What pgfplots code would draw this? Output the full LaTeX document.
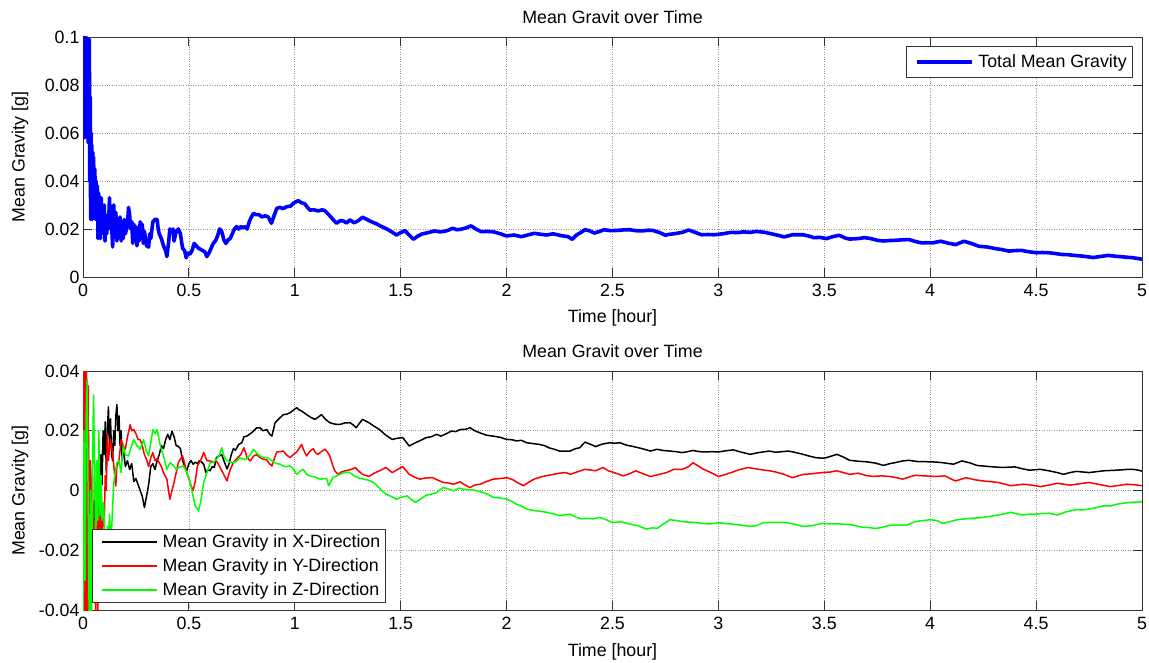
\documentclass[border=0pt]{standalone}
\usepackage{fontspec}
\setmainfont{Liberation Sans}
\usepackage{pgfplots}
\pgfplotsset{compat=1.18}
\newcommand\f{\fontsize{17.8bp}{21bp}\selectfont}
\pgfplotsset{
  mystyle/.style={
    scale only axis, width=1059bp, xmin=0, xmax=5,
    xtick={0,0.5,1,1.5,2,2.5,3,3.5,4,4.5,5},
    xticklabels={0,0.5,1,1.5,2,2.5,3,3.5,4,4.5,5},
    scaled y ticks=false, scaled x ticks=false,
    tick align=inside, major tick length=9bp,
    tick style={black!80, line width=0.8bp},
    axis line style={black!80, line width=0.8bp},
    grid=major, grid style={dotted, black!40, line width=0.7bp},
    tick label style={font=\f},
    xticklabel style={yshift=-4bp},
    every axis x label/.style={at={(axis description cs:0.5,-0.172)}, anchor=center, font=\f},
    every axis y label/.style={at={(axis description cs:-0.0595,0.5)}, rotate=90, anchor=center, font=\f},
    every axis title/.style={at={(axis description cs:0.5,1.083)}, anchor=center, font=\f},
    legend style={font=\f, draw=black!80, fill=white, inner xsep=3bp, inner ysep=3bp, row sep=5.5bp},
    legend cell align=left,
    legend image code/.code={\path (0bp,0bp) (64bp,0bp); \draw[#1] (6bp,0bp) -- (61bp,0bp);},
    every axis plot/.append style={line join=round},
  }
}
\begin{document}
\begin{tikzpicture}
\path[use as bounding box] (0,0) rectangle (1149bp,663bp);
\begin{axis}[mystyle, at={(83bp,386bp)}, anchor=south west, height=240bp,
  ymin=0, ymax=0.1, ytick={0,0.02,0.04,0.06,0.08,0.1},
  yticklabels={0,0.02,0.04,0.06,0.08,0.1},
  title={Mean Gravit over Time}, xlabel={Time [hour]}, ylabel={Mean Gravity [g]},
  legend style={at={(1,1)}, anchor=north east, xshift=-10bp, yshift=-9bp, inner ysep=6.5bp}]
\addplot[draw=blue, line width=3.6bp] coordinates {
(0,0.060) (0.002,0.1) (0.004,0.062) (0.006,0.1) (0.008,0.058) (0.010,0.1) (0.012,0.065) (0.014,0.1) (0.016,0.06) (0.018,0.099) (0.020,0.062) (0.022,0.099) (0.024,0.056) (0.026,0.099) (0.028,0.06) (0.030,0.099) (0.032,0.04) (0.034,0.075) (0.036,0.024) (0.038,0.06) (0.040,0.03) (0.042,0.055) (0.044,0.024) (0.046,0.052) (0.048,0.035) (0.050,0.05) (0.053,0.03) (0.056,0.045) (0.059,0.024) (0.062,0.04) (0.065,0.025) (0.068,0.038) (0.071,0.016) (0.074,0.035) (0.077,0.02) (0.080,0.03) (0.083,0.016) (0.086,0.033) (0.089,0.018) (0.092,0.028) (0.096,0.02) (0.100,0.03) (0.104,0.015) (0.108,0.025) (0.112,0.018) (0.116,0.026) (0.120,0.02) (0.125,0.033) (0.13,0.02) (0.135,0.022) (0.14,0.0125) (0.145,0.03) (0.15,0.018) (0.155,0.027) (0.16,0.015) (0.165,0.024) (0.17,0.017) (0.175,0.025) (0.18,0.015) (0.185,0.022) (0.19,0.016) (0.195,0.024) (0.2,0.018) (0.21,0.022) (0.215,0.029) (0.22,0.026) (0.225,0.02) (0.23,0.023) (0.235,0.014) (0.24,0.022) (0.245,0.016) (0.25,0.021) (0.255,0.013) (0.26,0.02) (0.265,0.015) (0.27,0.023) (0.275,0.017) (0.28,0.022) (0.285,0.014) (0.29,0.019) (0.3,0.013) (0.31,0.0125) (0.315,0.018) (0.32,0.016) (0.33,0.023) (0.34,0.024) (0.35,0.024) (0.355,0.02) (0.36,0.018) (0.37,0.016) (0.38,0.013) (0.39,0.011) (0.396,0.0085) (0.405,0.015) (0.41,0.02) (0.42,0.019) (0.425,0.02) (0.43,0.015) (0.44,0.019) (0.45,0.02) (0.46,0.018) (0.47,0.012) (0.48,0.011) (0.487,0.008) (0.495,0.01) (0.505,0.0095) (0.515,0.011) (0.525,0.014) (0.535,0.013) (0.545,0.012) (0.555,0.0115) (0.565,0.011) (0.575,0.0105) (0.585,0.0085) (0.595,0.01) (0.605,0.012) (0.615,0.014) (0.625,0.015) (0.635,0.017) (0.645,0.02) (0.655,0.019) (0.665,0.0155) (0.675,0.014) (0.685,0.0155) (0.695,0.016) (0.705,0.018) (0.715,0.02) (0.725,0.021) (0.735,0.02) (0.745,0.021) (0.755,0.0205) (0.765,0.021) (0.775,0.02) (0.785,0.023) (0.795,0.025) (0.805,0.0265) (0.815,0.026) (0.83,0.026) (0.845,0.025) (0.86,0.0255) (0.875,0.025) (0.89,0.0224) (0.9,0.025) (0.915,0.0286) (0.93,0.029) (0.945,0.0285) (0.962,0.0293) (0.98,0.0295) (0.993,0.0307) (1.016,0.0318) (1.03,0.031) (1.047,0.0305) (1.06,0.029) (1.071,0.0279) (1.09,0.028) (1.11,0.0275) (1.13,0.028) (1.142,0.0276) (1.16,0.026) (1.18,0.024) (1.197,0.0224) (1.215,0.0235) (1.23,0.0233) (1.245,0.0225) (1.26,0.0238) (1.28,0.0226) (1.3,0.0235) (1.32,0.0249) (1.34,0.024) (1.36,0.0231) (1.385,0.0222) (1.41,0.021) (1.435,0.02) (1.456,0.0189) (1.48,0.0175) (1.5,0.0185) (1.52,0.0193) (1.54,0.0175) (1.56,0.0157) (1.58,0.017) (1.6,0.0179) (1.63,0.0185) (1.66,0.0192) (1.685,0.0188) (1.705,0.019) (1.725,0.0195) (1.745,0.0203) (1.765,0.0197) (1.785,0.0199) (1.81,0.0205) (1.832,0.0213) (1.855,0.02) (1.88,0.0189) (1.91,0.019) (1.94,0.0188) (1.97,0.018) (2.0,0.0171) (2.035,0.0175) (2.07,0.0168) (2.1,0.0175) (2.13,0.0182) (2.16,0.0178) (2.19,0.0175) (2.22,0.018) (2.26,0.0172) (2.29,0.0168) (2.31,0.0157) (2.33,0.0175) (2.35,0.0185) (2.37,0.0197) (2.39,0.0193) (2.415,0.0183) (2.44,0.019) (2.46,0.0197) (2.49,0.0193) (2.52,0.0194) (2.55,0.0196) (2.58,0.0197) (2.61,0.0193) (2.64,0.0192) (2.67,0.0195) (2.69,0.0194) (2.72,0.0186) (2.75,0.0174) (2.77,0.0178) (2.79,0.018) (2.83,0.0186) (2.86,0.0196) (2.89,0.0186) (2.92,0.0176) (2.95,0.0177) (2.98,0.0176) (3.02,0.018) (3.06,0.0186) (3.09,0.0185) (3.12,0.0188) (3.15,0.0186) (3.18,0.019) (3.22,0.0186) (3.26,0.0178) (3.29,0.0172) (3.31,0.0167) (3.35,0.0176) (3.38,0.0176) (3.4,0.0176) (3.43,0.017) (3.45,0.0164) (3.48,0.0165) (3.51,0.016) (3.54,0.0168) (3.57,0.0174) (3.6,0.0162) (3.62,0.0158) (3.66,0.016) (3.69,0.0164) (3.72,0.016) (3.75,0.0153) (3.78,0.015) (3.81,0.0152) (3.84,0.0153) (3.87,0.0155) (3.9,0.0156) (3.93,0.0148) (3.96,0.0142) (3.99,0.0143) (4.01,0.0142) (4.05,0.0149) (4.08,0.0142) (4.12,0.0135) (4.16,0.0149) (4.2,0.0138) (4.23,0.0128) (4.27,0.0125) (4.31,0.0118) (4.34,0.0114) (4.37,0.0108) (4.4,0.011) (4.43,0.0111) (4.46,0.0106) (4.5,0.0101) (4.53,0.0102) (4.56,0.0101) (4.59,0.0098) (4.62,0.0094) (4.65,0.0093) (4.68,0.009) (4.72,0.0087) (4.77,0.0081) (4.8,0.0085) (4.84,0.009) (4.88,0.0086) (4.92,0.0083) (4.96,0.008) (5.0,0.0074)
};
\addlegendentry{Total Mean Gravity}
\end{axis}
\begin{axis}[mystyle, at={(83bp,53bp)}, anchor=south west, height=239bp,
  ymin=-0.04, ymax=0.04, ytick={-0.04,-0.02,0,0.02,0.04},
  yticklabels={-0.04,-0.02,0,0.02,0.04},
  title={Mean Gravit over Time}, xlabel={Time [hour]}, ylabel={Mean Gravity [g]},
  every axis x label/.style={at={(axis description cs:0.5,-0.176)}, anchor=center, font=\f},
  every axis title/.style={at={(axis description cs:0.5,1.082)}, anchor=center, font=\f},
  legend image code/.code={\path (0bp,0bp) (64bp,0bp); \draw[#1, line width=2bp] (6bp,0bp) -- (61bp,0bp);},
  legend style={at={(0,0)}, anchor=south west, xshift=9bp, yshift=8bp}]
\addplot[draw=black, line width=1.5bp] coordinates {
(0,0.05) (0.004,-0.05) (0.008,0.05) (0.012,-0.05) (0.016,0.045) (0.02,-0.03) (0.025,0.02) (0.03,-0.04) (0.035,0.01) (0.04,-0.035) (0.045,-0.01) (0.05,-0.025) (0.055,0.0) (0.06,-0.012) (0.065,0.008) (0.07,0.0) (0.075,0.01) (0.08,0.003) (0.085,0.012) (0.09,0.002) (0.095,0.02) (0.1,0.012) (0.105,0.023) (0.11,0.006) (0.115,0.02) (0.12,0.028) (0.125,0.015) (0.13,0.024) (0.135,0.012) (0.14,0.01) (0.145,0.02) (0.15,0.015) (0.155,0.025) (0.16,0.0288) (0.165,0.02) (0.17,0.025) (0.175,0.015) (0.18,0.02) (0.185,0.01) (0.19,0.015) (0.2,0.008) (0.21,0.01) (0.22,0.007) (0.23,0.009) (0.24,0.003) (0.25,0.004) (0.26,0.002) (0.27,0.0) (0.28,-0.002) (0.29,-0.0057) (0.3,-0.002) (0.31,0.002) (0.32,0.008) (0.33,0.009) (0.34,0.007) (0.35,0.01) (0.36,0.012) (0.37,0.015) (0.38,0.014) (0.39,0.017) (0.4,0.0188) (0.41,0.017) (0.42,0.0199) (0.43,0.018) (0.44,0.015) (0.45,0.0148) (0.46,0.014) (0.47,0.01) (0.48,0.008) (0.49,0.0066) (0.5,0.009) (0.51,0.01) (0.52,0.0088) (0.53,0.0095) (0.54,0.009) (0.55,0.01) (0.56,0.0095) (0.57,0.0088) (0.58,0.006) (0.59,0.007) (0.6,0.0066) (0.61,0.008) (0.62,0.0077) (0.63,0.011) (0.64,0.0115) (0.655,0.012) (0.665,0.01) (0.68,0.0072) (0.69,0.009) (0.7,0.012) (0.71,0.014) (0.72,0.0135) (0.735,0.0154) (0.75,0.016) (0.76,0.018) (0.773,0.0182) (0.79,0.019) (0.805,0.0199) (0.82,0.021) (0.836,0.021) (0.85,0.02) (0.868,0.0204) (0.88,0.019) (0.892,0.0182) (0.907,0.0227) (0.925,0.024) (0.946,0.0254) (0.96,0.0255) (0.977,0.026) (0.995,0.027) (1.009,0.0277) (1.02,0.027) (1.032,0.0266) (1.056,0.0254) (1.075,0.0245) (1.095,0.0238) (1.11,0.0245) (1.126,0.0254) (1.145,0.0238) (1.165,0.0227) (1.19,0.0222) (1.213,0.0221) (1.235,0.0226) (1.26,0.0227) (1.275,0.022) (1.29,0.021) (1.305,0.0225) (1.32,0.0238) (1.35,0.0227) (1.375,0.0215) (1.4,0.0204) (1.43,0.0185) (1.46,0.0171) (1.485,0.0175) (1.51,0.0177) (1.54,0.0149) (1.57,0.0160) (1.595,0.0168) (1.62,0.0177) (1.645,0.018) (1.67,0.0188) (1.69,0.0182) (1.715,0.019) (1.74,0.0199) (1.76,0.0197) (1.78,0.0204) (1.805,0.0205) (1.827,0.021) (1.85,0.02) (1.874,0.0193) (1.905,0.0185) (1.937,0.0182) (1.97,0.0178) (2.0,0.0171) (2.025,0.017) (2.047,0.0166) (2.07,0.0168) (2.094,0.016) (2.125,0.0157) (2.157,0.0154) (2.18,0.015) (2.2,0.0143) (2.225,0.0138) (2.25,0.0132) (2.275,0.0132) (2.3,0.0132) (2.325,0.014) (2.345,0.0143) (2.37,0.0162) (2.395,0.0155) (2.42,0.0147) (2.45,0.0155) (2.487,0.016) (2.51,0.0158) (2.535,0.016) (2.565,0.0152) (2.6,0.0147) (2.64,0.014) (2.68,0.0132) (2.71,0.0138) (2.74,0.0134) (2.77,0.0132) (2.8,0.013) (2.83,0.0127) (2.855,0.013) (2.88,0.0134) (2.91,0.013) (2.94,0.0129) (2.97,0.013) (3.0,0.0129) (3.035,0.0133) (3.07,0.0136) (3.11,0.0128) (3.15,0.0121) (3.19,0.0127) (3.24,0.0132) (3.27,0.0128) (3.3,0.013) (3.33,0.0132) (3.36,0.0128) (3.4,0.0121) (3.43,0.0115) (3.46,0.011) (3.49,0.0108) (3.51,0.011) (3.56,0.0121) (3.59,0.0112) (3.62,0.0101) (3.66,0.0098) (3.7,0.0096) (3.74,0.0092) (3.78,0.0084) (3.81,0.009) (3.84,0.0094) (3.87,0.0099) (3.9,0.0101) (3.94,0.0097) (4.0,0.0096) (4.03,0.0095) (4.06,0.0093) (4.11,0.0088) (4.15,0.0099) (4.19,0.0092) (4.22,0.0084) (4.28,0.008) (4.34,0.0077) (4.4,0.0079) (4.44,0.0072) (4.47,0.0068) (4.52,0.0071) (4.56,0.0066) (4.6,0.006) (4.63,0.0054) (4.66,0.006) (4.69,0.0064) (4.75,0.006) (4.82,0.0066) (4.88,0.0068) (4.94,0.0071) (4.97,0.007) (5.0,0.0065)
};
\addlegendentry{Mean Gravity in X-Direction}
\addplot[draw=red, line width=1.5bp] coordinates {
(0,0.05) (0.004,-0.05) (0.008,0.05) (0.012,-0.05) (0.016,0.05) (0.02,-0.045) (0.025,0.035) (0.03,-0.05) (0.035,0.01) (0.04,-0.02) (0.045,0.005) (0.05,-0.035) (0.055,-0.01) (0.06,-0.045) (0.065,-0.005) (0.07,-0.04) (0.075,0.0) (0.08,-0.025) (0.085,0.005) (0.09,-0.02) (0.095,-0.005) (0.1,-0.012) (0.105,0.005) (0.11,0.0) (0.115,0.019) (0.12,0.01) (0.13,0.017) (0.14,0.012) (0.15,0.005) (0.155,0.0015) (0.16,0.008) (0.17,0.01) (0.18,0.017) (0.19,0.015) (0.2,0.0138) (0.21,0.018) (0.223,0.022) (0.23,0.02) (0.24,0.0204) (0.25,0.019) (0.26,0.017) (0.27,0.017) (0.28,0.015) (0.29,0.012) (0.3,0.0104) (0.31,0.008) (0.32,0.011) (0.33,0.0127) (0.34,0.01) (0.35,0.0107) (0.36,0.0093) (0.37,0.008) (0.38,0.006) (0.396,0.0038) (0.41,-0.0029) (0.42,0.0) (0.43,0.0027) (0.44,0.006) (0.45,0.0093) (0.46,0.0105) (0.47,0.0116) (0.48,0.009) (0.49,0.006) (0.5,0.004) (0.51,0.0016) (0.52,0.0) (0.53,0.003) (0.54,0.0082) (0.555,0.01) (0.57,0.0127) (0.585,0.01) (0.6,0.0099) (0.615,0.0095) (0.63,0.0099) (0.645,0.008) (0.66,0.006) (0.68,0.0032) (0.695,0.007) (0.71,0.0093) (0.73,0.011) (0.745,0.012) (0.76,0.0143) (0.775,0.011) (0.79,0.0099) (0.805,0.0115) (0.82,0.012) (0.836,0.011) (0.85,0.0105) (0.868,0.0102) (0.88,0.009) (0.892,0.0082) (0.905,0.011) (0.915,0.0129) (0.93,0.013) (0.946,0.0132) (0.96,0.012) (0.977,0.011) (0.99,0.0118) (1.009,0.0129) (1.032,0.0154) (1.045,0.013) (1.056,0.0116) (1.07,0.013) (1.087,0.014) (1.1,0.0125) (1.11,0.0121) (1.125,0.013) (1.142,0.0138) (1.155,0.0128) (1.165,0.0116) (1.18,0.0082) (1.19,0.0065) (1.204,0.0054) (1.22,0.0062) (1.24,0.0066) (1.265,0.007) (1.286,0.0077) (1.3,0.0066) (1.32,0.0054) (1.35,0.0047) (1.375,0.0058) (1.4,0.0066) (1.43,0.0077) (1.46,0.006) (1.485,0.007) (1.51,0.008) (1.54,0.0054) (1.565,0.0045) (1.59,0.0038) (1.62,0.0042) (1.65,0.0043) (1.675,0.0035) (1.7,0.0027) (1.725,0.0025) (1.75,0.0021) (1.78,0.0029) (1.8,0.002) (1.827,0.001) (1.85,0.0018) (1.874,0.0021) (1.905,0.003) (1.937,0.0038) (1.97,0.004) (2.0,0.0043) (2.03,0.0036) (2.055,0.0025) (2.08,0.0016) (2.105,0.0028) (2.13,0.0038) (2.17,0.0047) (2.22,0.0054) (2.25,0.0058) (2.28,0.006) (2.3,0.0054) (2.345,0.0065) (2.37,0.0071) (2.4,0.0068) (2.42,0.0066) (2.455,0.0077) (2.48,0.0066) (2.5,0.0062) (2.55,0.0049) (2.58,0.0056) (2.61,0.0066) (2.645,0.0056) (2.68,0.0047) (2.72,0.0054) (2.755,0.006) (2.79,0.0071) (2.83,0.0071) (2.86,0.008) (2.88,0.0093) (2.905,0.0082) (2.93,0.0071) (2.965,0.006) (3.0,0.0047) (3.03,0.0053) (3.06,0.006) (3.1,0.007) (3.14,0.0077) (3.19,0.0071) (3.24,0.0066) (3.27,0.0062) (3.31,0.0054) (3.35,0.0043) (3.4,0.0054) (3.44,0.0056) (3.49,0.006) (3.53,0.0062) (3.56,0.0066) (3.59,0.006) (3.62,0.0054) (3.66,0.0058) (3.7,0.005) (3.73,0.0047) (3.77,0.0049) (3.81,0.0047) (3.84,0.0043) (3.87,0.0038) (3.9,0.0045) (3.93,0.0051) (3.97,0.0049) (4.03,0.0047) (4.07,0.0049) (4.1,0.0038) (4.12,0.0032) (4.17,0.0043) (4.21,0.0036) (4.25,0.0032) (4.28,0.003) (4.32,0.0027) (4.35,0.0022) (4.38,0.0016) (4.44,0.0021) (4.48,0.0018) (4.52,0.0013) (4.56,0.0018) (4.6,0.0024) (4.66,0.0018) (4.7,0.0022) (4.75,0.0027) (4.8,0.002) (4.85,0.0013) (4.89,0.0017) (4.93,0.0021) (4.97,0.0019) (5.0,0.0016)
};
\addlegendentry{Mean Gravity in Y-Direction}
\addplot[draw=green, line width=1.5bp] coordinates {
(0,-0.05) (0.005,0.02) (0.01,-0.03) (0.015,0.025) (0.02,0.037) (0.025,-0.01) (0.03,-0.05) (0.035,0.0) (0.04,-0.045) (0.045,0.01) (0.05,0.032) (0.055,0.005) (0.06,-0.02) (0.065,0.01) (0.07,-0.01) (0.075,0.02) (0.08,-0.0084) (0.085,0.005) (0.09,-0.01) (0.097,-0.004) (0.105,-0.02) (0.11,-0.024) (0.115,-0.012) (0.12,-0.018) (0.125,-0.008) (0.13,-0.015) (0.135,-0.0135) (0.14,-0.005) (0.145,0.002) (0.15,0.005) (0.16,0.0093) (0.17,0.01) (0.18,0.006) (0.19,0.015) (0.2,0.012) (0.215,0.0116) (0.225,0.014) (0.24,0.017) (0.255,0.015) (0.27,0.0138) (0.286,0.017) (0.3,0.013) (0.31,0.0116) (0.32,0.016) (0.33,0.0204) (0.34,0.019) (0.35,0.0204) (0.365,0.015) (0.38,0.0116) (0.396,0.0071) (0.41,0.0093) (0.425,0.0085) (0.44,0.0071) (0.46,0.008) (0.475,0.0082) (0.49,0.006) (0.506,0.0027) (0.52,-0.002) (0.53,-0.0051) (0.545,-0.0068) (0.555,-0.004) (0.57,0.0027) (0.585,0.006) (0.6,0.0093) (0.615,0.0095) (0.63,0.0104) (0.645,0.012) (0.655,0.0143) (0.668,0.011) (0.68,0.0099) (0.695,0.0095) (0.71,0.0093) (0.725,0.0098) (0.74,0.011) (0.755,0.0105) (0.77,0.0104) (0.79,0.012) (0.805,0.0138) (0.82,0.0125) (0.836,0.0116) (0.85,0.011) (0.87,0.011) (0.883,0.0104) (0.9,0.0095) (0.915,0.009) (0.93,0.0088) (0.946,0.0082) (0.96,0.008) (0.977,0.0082) (0.99,0.0075) (1.009,0.0054) (1.025,0.0065) (1.04,0.0071) (1.055,0.0055) (1.07,0.0049) (1.095,0.0045) (1.12,0.0038) (1.15,0.004) (1.16,0.0016) (1.17,0.003) (1.18,0.0043) (1.213,0.0054) (1.24,0.0062) (1.26,0.006) (1.28,0.0049) (1.31,0.004) (1.34,0.0036) (1.365,0.003) (1.39,0.0016) (1.41,0.0) (1.43,-0.0012) (1.455,-0.002) (1.48,-0.0029) (1.505,-0.0022) (1.53,-0.0018) (1.55,-0.003) (1.57,-0.004) (1.595,-0.0028) (1.62,-0.0016) (1.645,-0.0012) (1.67,-0.0007) (1.7,0.001) (1.725,0.0005) (1.75,-0.0001) (1.775,0.0008) (1.8,0.0004) (1.84,0.0002) (1.865,-0.0002) (1.89,-0.0007) (1.91,-0.0012) (1.937,-0.0023) (1.97,-0.0025) (2.0,-0.0029) (2.025,-0.0036) (2.047,-0.0046) (2.07,-0.0052) (2.094,-0.0062) (2.12,-0.0066) (2.14,-0.0068) (2.165,-0.007) (2.19,-0.0073) (2.22,-0.0078) (2.25,-0.0084) (2.27,-0.0082) (2.3,-0.0079) (2.33,-0.009) (2.355,-0.0095) (2.38,-0.0093) (2.41,-0.0095) (2.44,-0.009) (2.47,-0.0098) (2.5,-0.0107) (2.54,-0.0105) (2.58,-0.0112) (2.62,-0.0118) (2.66,-0.0129) (2.69,-0.0125) (2.71,-0.0127) (2.74,-0.0112) (2.77,-0.0098) (2.8,-0.01) (2.83,-0.0104) (2.86,-0.0106) (2.89,-0.0107) (2.92,-0.011) (2.96,-0.0112) (3.0,-0.0108) (3.03,-0.011) (3.07,-0.0113) (3.11,-0.0116) (3.15,-0.012) (3.18,-0.0118) (3.21,-0.0108) (3.24,-0.0107) (3.28,-0.0107) (3.32,-0.0107) (3.36,-0.0113) (3.4,-0.012) (3.44,-0.0118) (3.49,-0.011) (3.53,-0.0112) (3.57,-0.0112) (3.62,-0.0114) (3.65,-0.0118) (3.68,-0.0123) (3.71,-0.0124) (3.74,-0.0127) (3.77,-0.0124) (3.81,-0.0116) (3.85,-0.0116) (3.89,-0.0116) (3.93,-0.0104) (3.96,-0.0101) (4.0,-0.0098) (4.03,-0.01) (4.06,-0.0110) (4.09,-0.0105) (4.12,-0.0099) (4.15,-0.0096) (4.18,-0.0094) (4.22,-0.0092) (4.25,-0.009) (4.28,-0.0087) (4.32,-0.0082) (4.35,-0.0078) (4.38,-0.0073) (4.41,-0.0078) (4.44,-0.0082) (4.47,-0.0079) (4.5,-0.0079) (4.53,-0.0077) (4.56,-0.0076) (4.6,-0.0082) (4.64,-0.0072) (4.69,-0.0064) (4.72,-0.0065) (4.75,-0.0062) (4.78,-0.0058) (4.82,-0.0051) (4.85,-0.0052) (4.88,-0.0046) (4.91,-0.0043) (4.94,-0.004) (4.97,-0.0039) (5.0,-0.0038)
};
\addlegendentry{Mean Gravity in Z-Direction}
\end{axis}
\end{tikzpicture}
\end{document}
